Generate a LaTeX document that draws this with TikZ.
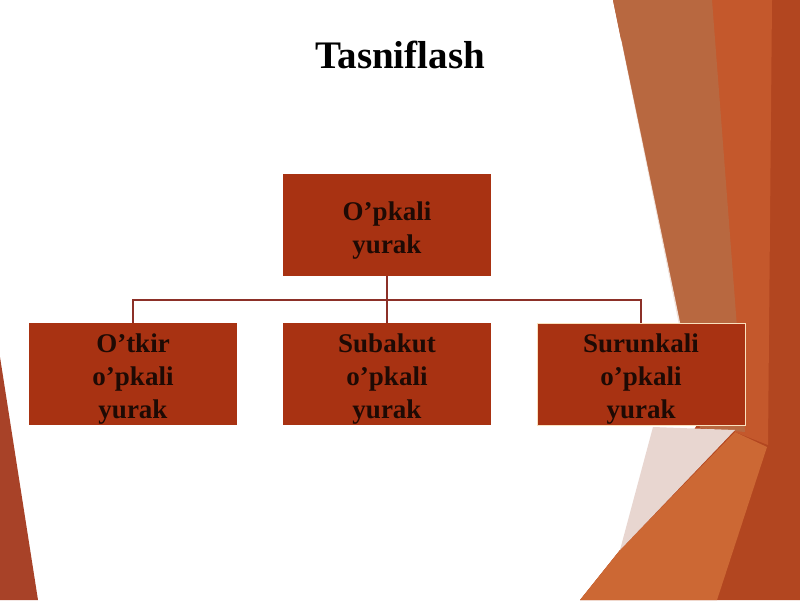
\documentclass[tikz,border=0pt]{standalone}
\usepackage{fontspec}
\setmainfont{Liberation Serif}
\definecolor{boxred}{RGB}{168,50,18}
\definecolor{linered}{RGB}{140,48,40}
\definecolor{txt}{RGB}{30,10,4}
\definecolor{tanb}{RGB}{184,104,64}
\definecolor{orangeb}{RGB}{196,88,44}
\definecolor{darkb}{RGB}{178,70,32}
\definecolor{brightb}{RGB}{204,104,52}
\definecolor{pinkb}{RGB}{232,214,208}
\definecolor{leftb}{RGB}{168,66,40}
\begin{document}
\begin{tikzpicture}[x=1pt,y=-1pt,
  catbox/.style={fill=boxred,minimum width=208pt,minimum height=102pt,inner sep=0pt},
  cattext/.style={align=center,font=\fontsize{27}{33}\selectfont\bfseries,text=txt,inner sep=0pt},
  conn/.style={draw=linered,line width=1.5pt}]
\useasboundingbox (0,0) rectangle (800,600);
\fill[white] (0,0) rectangle (800,600);
% background shapes
\fill[darkb] (613,0) -- (800,0) -- (800,600) -- (580,600) -- (620,550) -- (700,420) -- cycle;
\fill[orangeb] (705,0) -- (772,0) -- (768,445) -- (735,432) -- cycle;
\fill[tanb] (613,0) -- (712,0) -- (745,432) -- (700,428) -- cycle;
\fill[brightb] (580,600) -- (620,550) -- (735,432) -- (767,447) -- (717,600) -- cycle;
\fill[pinkb] (653,427) -- (735,430) -- (620,550) -- cycle;
\draw[white,line width=2.5pt,opacity=0.8] (620,40) -- (698,415);
\fill[leftb] (0,357) -- (38,600) -- (0,600) -- cycle;
% title
\node[font=\fontsize{39}{44}\selectfont\bfseries] (title) at (400,55) {Tasniflash};
% boxes
\node[catbox] (top) at (387,225) {};
\node[catbox] (b1) at (133,374) {};
\node[catbox] (b2) at (387,374) {};
\node[catbox,draw={rgb,255:red,250;green,225;blue,190},line width=1pt] (b3) at (641,374) {};
\node[cattext] (ttop) at ([yshift=-6pt]top.center) {O’pkali\\yurak};
\node[cattext] (tb1) at ([yshift=-5pt]b1.center) {O’tkir\\o’pkali\\yurak};
\node[cattext] (tb2) at ([yshift=-5pt]b2.center) {Subakut\\o’pkali\\yurak};
\node[cattext] (tb3) at ([yshift=-5pt]b3.center) {Surunkali\\o’pkali\\yurak};
% connectors
\coordinate (j) at (387,300);
\draw[conn] (top.south) -- (b2.north);
\draw[conn] (b1.north) |- (j) -| (b3.north);
\end{tikzpicture}
\end{document}
